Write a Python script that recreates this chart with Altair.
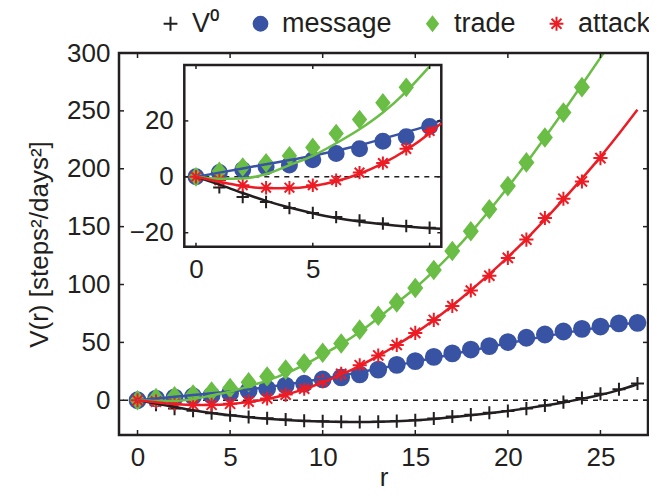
import altair as alt
import pandas as pd

# ---------------- data ----------------
R = list(range(28))
SERIES = ["V⁰", "message", "trade", "attack"]
COLORS = ["#231f20", "#3953a4", "#6abd45", "#ed1c24"]

V0 = [0, -3.8, -7.2, -9.0, -11.2, -12.9, -14.4, -15.6, -16.7, -17.6, -18.2, -18.6,
      -18.7, -18.5, -18.0, -17.2, -15.8, -14.0, -12.4, -10.8, -9.2, -7.2, -4.5, -1.6,
      2.0, 5.6, 9.5, 14.4]
MESSAGE = [0, 1.5, 2.5, 3.5, 4.2, 6.1, 8.3, 10.0, 12.7, 14.3, 18.0, 19.8, 22.4, 26.5,
           30.6, 33.8, 37.5, 40.5, 43.8, 46.8, 50.3, 54.0, 56.8, 59.4, 61.7, 63.7,
           66.4, 66.9]
TRADE = [0, 2.0, 3.5, 5.0, 7.5, 10.5, 15.5, 20.5, 26.5, 32.0, 41.0, 49.0, 61.0, 73.0,
         84.5, 97.0, 112.5, 129.0, 146.0, 165.0, 185.0, 205.5, 227.0, 248.5, 270.5]
ATTACK = [0, -1.2, -3.0, -3.9, -3.9, -3.0, -1.2, 1.5, 4.9, 10.0, 16.4, 22.8, 30.3,
          38.7, 47.8, 58.2, 69.4, 81.4, 94.8, 107.6, 123.0, 138.8, 157.5, 174.1,
          189.0, 209.2]

V0_FIT = [0, -2.8, -5.8, -8.6, -11.0, -13.0, -14.7, -16.0, -17.0, -17.8, -18.4, -18.7,
          -18.8, -18.6, -18.1, -17.3, -16.1, -14.6, -13.0, -11.2, -9.2, -7.0, -4.6,
          -1.9, 1.2, 4.7, 8.8, 13.8]
MESSAGE_FIT = [0, 1.5, 3.0, 4.5, 6.0, 7.5, 9.3, 11.3, 13.6, 16.0, 18.6, 21.3, 24.2,
               27.2, 30.3, 33.4, 36.6, 39.8, 43.0, 46.2, 49.3, 52.3, 55.2, 58.0, 60.6,
               63.0, 65.2, 67.2]
TRADE_FIT = [0, -0.7, -0.6, 1.0, 4.2, 7.5, 12.0, 17.0, 23.0, 30.5, 39.5, 48.5, 59.0,
             71.0, 84.0, 97.0, 111.5, 127.5, 145.0, 164.0, 184.0, 205.0, 227.0, 249.5,
             272.5, 296.0, 320.0, 345.0]
ATTACK_FIT = [0, -1.8, -3.3, -4.1, -4.1, -3.3, -1.6, 1.1, 4.8, 9.6, 15.6, 22.2, 29.8,
              38.3, 47.7, 58.0, 69.4, 81.7, 95.0, 109.0, 123.7, 139.2, 156.0, 173.5,
              191.5, 210.3, 230.2, 251.0]
# fitted curves where they meet the inset's right border (r = 10.5)
INSET_EDGE_R = 10.5
INSET_EDGE = {"V⁰": -18.6, "message": 20.3, "attack": 19.2}

MAIN_XTICKS = [0, 5, 10, 15, 20, 25]
MAIN_YTICKS = [0, 50, 100, 150, 200, 250, 300]
INSET_XTICKS = [0, 5, 10]
INSET_XLABELS = [0, 5]
INSET_YTICKS = [-20, 0, 20]
INSET_XDOM = [-0.5, 10.5]
INSET_YDOM = [-25, 40]

# ---------------- tables ----------------
pts_vals = {"V⁰": V0, "message": MESSAGE, "trade": TRADE, "attack": ATTACK}
fit_vals = {"V⁰": V0_FIT, "message": MESSAGE_FIT, "trade": TRADE_FIT, "attack": ATTACK_FIT}

pts = pd.DataFrame([{"r": R[i], "v": v, "series": s, "o": k}
                    for k, s in enumerate(SERIES) for i, v in enumerate(pts_vals[s])])
fits = pd.DataFrame([{"r": R[i], "v": v, "series": s, "o": k}
                     for k, s in enumerate(SERIES) for i, v in enumerate(fit_vals[s])])
inset_pts = pts[(pts.r <= INSET_XDOM[1]) & (pts.v <= INSET_YDOM[1])]
inset_fits = pd.concat([
    fits[fits.r <= 10],
    pd.DataFrame([{"r": INSET_EDGE_R, "v": v, "series": s, "o": SERIES.index(s)}
                  for s, v in INSET_EDGE.items()]),
]).sort_values(["o", "r"])

FONT = "Liberation Sans"
TXT = "#231f20"
W, H = 529, 382          # plot area (right edge kept inside the page)
FS = 26

PLUS = "M-1,0L1,0M0,-1L0,1"
DIAM = "M0,-1L0.78,0L0,1L-0.78,0Z"
STAR = "M-1,0L1,0M0,-1L0,1M-0.72,-0.72L0.72,0.72M-0.72,0.72L0.72,-0.72"
SHAPES = [PLUS, "circle", DIAM, STAR]
SIZES = [170, 250, 300, 200]

XMAX = -1 + 29 * W / 537.0
xs = alt.Scale(domain=[-1, XMAX], nice=False, zero=False)
ys = alt.Scale(domain=[-30, 300], nice=False, zero=False)
IX0, IX1, IY0, IY1 = 65.3, 322.3, 12.0, 193.7
ixs = alt.Scale(domain=INSET_XDOM, range=[IX0, IX1], nice=False, zero=False)
iys = alt.Scale(domain=INSET_YDOM, range=[IY1, IY0], nice=False, zero=False)

shape_scale = alt.Scale(domain=SERIES, range=SHAPES)
col_scale = alt.Scale(domain=SERIES, range=COLORS)

legend = alt.Legend(orient="none", legendX=38, legendY=-43, direction="horizontal",
                    title=None, labelFontSize=27, labelFont=FONT, labelColor=TXT,
                    symbolSize=190, symbolStrokeWidth=2, columnPadding=27,
                    labelOffset=8, padding=0, labelLimit=300)

MINUS = "replace(datum.label, '-', '\u2212')"
common_axis = dict(domain=False, ticks=False, tickSize=0, grid=False,
                   labelFontSize=FS, labelFont=FONT, labelColor=TXT,
                   titleFontSize=FS, titleFont=FONT, titleColor=TXT,
                   titleFontWeight="normal")
main_xaxis = alt.Axis(values=MAIN_XTICKS, labelPadding=9, titlePadding=-6, **common_axis)
main_yaxis = alt.Axis(values=MAIN_YTICKS, labelPadding=9, titlePadding=14, **common_axis)
inset_xaxis = alt.Axis(orient="bottom", offset=IY1 - H, values=INSET_XLABELS,
                       labelPadding=10, **common_axis)
inset_yaxis = alt.Axis(orient="left", offset=-IX0, values=INSET_YTICKS,
                       labelPadding=11, labelExpr=MINUS, **common_axis)


def MX(f):
    return alt.X(f, scale=xs, axis=main_xaxis, title="r")


def MY(f):
    return alt.Y(f, scale=ys, axis=main_yaxis, title="V(r) [steps²/days²]")


def IX(f):
    return alt.X(f, scale=ixs, axis=inset_xaxis, title=None)


def IY(f):
    return alt.Y(f, scale=iys, axis=inset_yaxis, title=None)


def point_layers(data, fx, fy, scale_k, with_legend):
    layers = []
    for k, s in enumerate(SERIES):
        d = data[data.series == s]
        leg = legend if with_legend else None
        layers.append(
            alt.Chart(d).mark_point(opacity=1, strokeWidth=2, size=SIZES[k] * scale_k)
            .encode(
                x=fx("r:Q"), y=fy("v:Q"),
                shape=alt.Shape("series:N", scale=shape_scale, legend=leg),
                fill=alt.Fill("series:N", scale=col_scale, legend=leg),
                stroke=alt.Stroke("series:N", scale=col_scale, legend=leg),
            )
        )
    return layers


def line_layer(data, fx, fy, clip):
    return alt.Chart(data).mark_line(strokeWidth=2.5, interpolate="monotone", clip=clip).encode(
        x=fx("r:Q"), y=fy("v:Q"),
        color=alt.Color("series:N", scale=col_scale, legend=None),
        detail="series:N",
        order="r:Q",
    )


def rule(**kw):
    return alt.Chart(kw.pop("data")).mark_rule(color=TXT, strokeWidth=1.5).encode(**kw)


# ---------------- main panel ----------------
main_zero = alt.Chart(pd.DataFrame({"v": [0]})).mark_rule(
    color=TXT, strokeWidth=1.5, strokeDash=[5, 5]).encode(y=MY("v:Q"))

mx = pd.DataFrame({"t": MAIN_XTICKS})
my = pd.DataFrame({"t": MAIN_YTICKS})
main_ticks = [
    rule(data=mx, x=MX("t:Q"), y=alt.value(H), y2=alt.value(H - 5)),
    rule(data=mx, x=MX("t:Q"), y=alt.value(0), y2=alt.value(5)),
    rule(data=my, y=MY("t:Q"), x=alt.value(0), x2=alt.value(5)),
    rule(data=my, y=MY("t:Q"), x=alt.value(W), x2=alt.value(W - 5)),
]
main_frame = alt.Chart(pd.DataFrame({"a": [0]})).mark_rect(
    fill=None, stroke=TXT, strokeWidth=2.5).encode(
    x=alt.value(0), x2=alt.value(W), y=alt.value(0), y2=alt.value(H))

main = alt.layer(
    main_zero,
    *point_layers(pts, MX, MY, 1.0, True),
    line_layer(fits, MX, MY, True),
    *main_ticks,
    main_frame,
)

# ---------------- inset ----------------
inset_box = alt.Chart(pd.DataFrame({"r": [INSET_XDOM[0]], "r2": [INSET_XDOM[1]],
                                    "v": [INSET_YDOM[0]], "v2": [INSET_YDOM[1]]})).mark_rect(
    fill="white", stroke=TXT, strokeWidth=2.5).encode(
    x=IX("r:Q"), x2="r2:Q", y=IY("v:Q"), y2="v2:Q")

inset_zero = alt.Chart(pd.DataFrame({"v": [0], "a": [INSET_XDOM[0]], "b": [INSET_XDOM[1]]})).mark_rule(
    color=TXT, strokeWidth=1.5, strokeDash=[5, 5]).encode(
    y=IY("v:Q"), x=IX("a:Q"), x2="b:Q")

ix = pd.DataFrame({"t": INSET_XTICKS})
iy = pd.DataFrame({"t": INSET_YTICKS})
inset_ticks = [
    rule(data=ix, x=IX("t:Q"), y=alt.value(IY1), y2=alt.value(IY1 - 4)),
    rule(data=ix, x=IX("t:Q"), y=alt.value(IY0), y2=alt.value(IY0 + 4)),
    rule(data=iy, y=IY("t:Q"), x=alt.value(IX0), x2=alt.value(IX0 + 4)),
    rule(data=iy, y=IY("t:Q"), x=alt.value(IX1), x2=alt.value(IX1 - 4)),
]

inset = alt.layer(
    inset_box, inset_zero,
    *point_layers(inset_pts, IX, IY, 0.9, False),
    line_layer(inset_fits, IX, IY, False),
    *inset_ticks,
)

chart = alt.layer(main, inset).resolve_scale(x="independent", y="independent").properties(
    width=W, height=H,
    autosize=alt.AutoSizeParams(type="none"),
    padding={"left": 111, "top": 45, "right": 1, "bottom": 55},
).configure(font=FONT, view=alt.ViewConfig(stroke=None))

chart.save("out.html", embed_options={"renderer": "svg", "actions": False})
